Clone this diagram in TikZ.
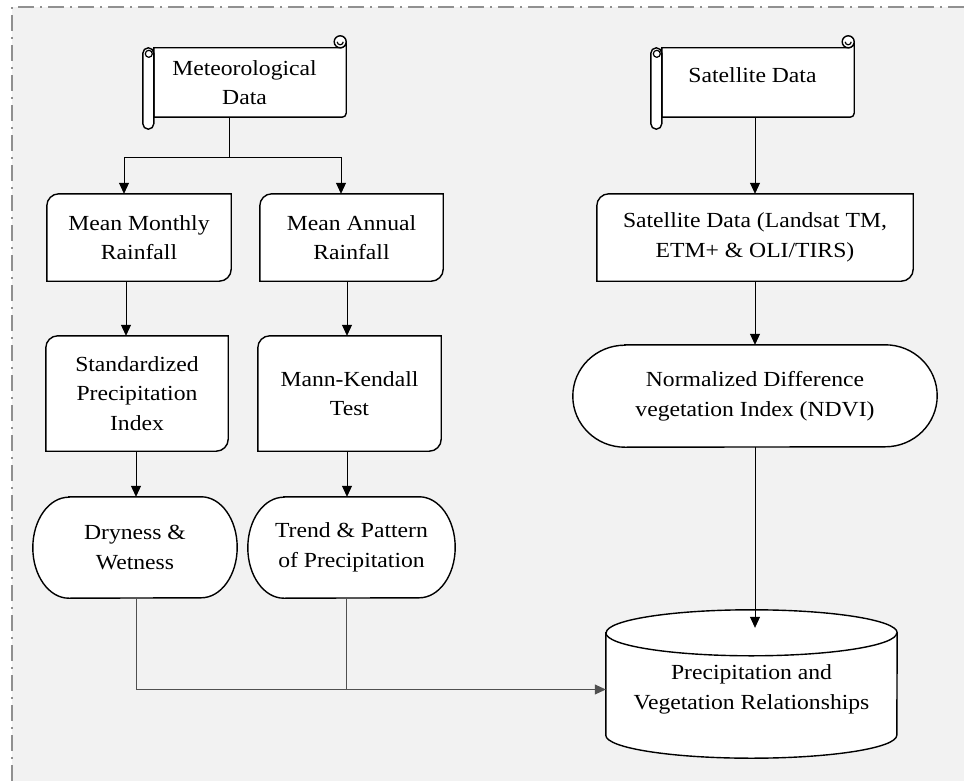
\documentclass[tikz,border=0pt]{standalone}
\usepackage{fontspec}
\setmainfont{Liberation Serif}[FakeStretch=1.1]
\usetikzlibrary{arrows.meta,calc}
\pgfdeclarelayer{bgl}
\pgfdeclarelayer{shp}
\pgfsetlayers{bgl,shp,main}
\definecolor{bgc}{HTML}{F2F2F2}
\definecolor{bordc}{HTML}{909090}
\definecolor{lngray}{HTML}{505050}

\newcommand\scrollshape[1]{%
  \begin{pgfonlayer}{shp}
    \filldraw[outl] ([xshift=11pt]#1.north west) -- ([xshift=-6pt]#1.north east)
      arc[start angle=270,end angle=360,radius=6pt]
      {[rounded corners=4pt] -- (#1.south east)} -- ([xshift=11pt]#1.south west) -- cycle;
    \filldraw[outl] ([shift={(-6,-6)}]#1.north east) circle[radius=6pt];
    \draw[line width=1.2pt] ([shift={(-9,-6)}]#1.north east) arc[start angle=180,end angle=360,radius=3pt];
    \filldraw[outl,rounded corners=5.5pt] (#1.north west) rectangle ([shift={(11,12)}]#1.south west);
    \draw[line width=1.2pt] ([shift={(6,6)}]#1.north west) circle[radius=3.5pt];
  \end{pgfonlayer}}

\newcommand\cardshape[1]{%
  \begin{pgfonlayer}{shp}
    \filldraw[outl] (#1.south west) -- ([yshift=-12pt]#1.north west)
      arc[start angle=180,end angle=90,radius=12pt] -- (#1.north east)
      -- ([yshift=12pt]#1.south east) arc[start angle=0,end angle=-90,radius=12pt] -- cycle;
  \end{pgfonlayer}}

\newcommand\termshape[3]{%
  \begin{pgfonlayer}{shp}
    \filldraw[outl] ([xshift=#2pt]#1.north west) -- ([xshift=-#2pt]#1.north east)
      arc[start angle=90,end angle=-90,x radius=#2pt,y radius=#3pt]
      -- ([xshift=#2pt]#1.south west)
      arc[start angle=270,end angle=90,x radius=#2pt,y radius=#3pt] -- cycle;
  \end{pgfonlayer}}

\begin{document}
\begin{tikzpicture}[x=1pt,y=-1pt,
  box/.style={inner sep=0pt, align=center, font=\fontsize{21.5}{29.5}\selectfont},
  outl/.style={draw=black, line width=1.4pt, fill=white},
  cn/.style={line width=0.8pt, draw=black},
  cn2/.style={line width=0.8pt, draw=lngray},
  arr/.style={-{Triangle[length=11pt,width=10pt]}, line width=0.8pt},
]
\useasboundingbox (0,0) rectangle (964,781);
\begin{pgfonlayer}{bgl}
  \fill[bgc] (12,7) rectangle (964,781);
  \draw[bordc, line width=1.5pt, dash pattern=on 16pt off 6pt on 2pt off 6pt] (12,781) -- (12,7) -- (964,7);
\end{pgfonlayer}

% nodes
\node[box, minimum width=203pt, minimum height=69pt] (met) at (244.5,82.5) {Meteorological\\Data};
\node[box, minimum width=203pt, minimum height=69pt, text depth=15pt] (sat) at (752.5,82.5) {Satellite Data};
\node[box, minimum width=184pt, minimum height=87pt] (mm) at (139,237.5) {Mean Monthly\\Rainfall};
\node[box, minimum width=183pt, minimum height=87pt] (ma) at (351.5,237.5) {Mean Annual\\Rainfall};
\node[box, minimum width=182pt, minimum height=115pt] (spi) at (137,393.5) {Standardized\\Precipitation\\Index};
\node[box, minimum width=183pt, minimum height=115pt] (mk) at (349.5,393.5) {Mann-Kendall\\Test};
\node[box, minimum width=204pt, minimum height=101pt] (dw) at (135,547.5) {Dryness \&\\Wetness};
\node[box, minimum width=207pt, minimum height=101pt] (tp) at (351.5,547.5) {Trend \& Pattern\\of Precipitation};
\node[box, minimum width=316pt, minimum height=87pt] (ls) at (755,237.5) {Satellite Data (Landsat TM,\\ETM+ \& OLI/TIRS)};
\node[box, minimum width=364pt, minimum height=102pt] (nd) at (755,396) {Normalized Difference\\vegetation Index (NDVI)};
\node[box, minimum width=291pt, minimum height=137pt] (cy) at (751.5,689.5) {Precipitation and\\Vegetation Relationships};

% shapes
\scrollshape{met}
\scrollshape{sat}
\cardshape{mm}
\cardshape{ma}
\cardshape{spi}
\cardshape{mk}
\cardshape{ls}
\termshape{dw}{36}{50.5}
\termshape{tp}{36}{50.5}
\termshape{nd}{52}{51}
\begin{pgfonlayer}{shp}
  \filldraw[outl] ([yshift=-12pt]cy.north west) -- ([yshift=23pt]cy.south west)
    arc[start angle=180,end angle=360,x radius=145.5pt,y radius=23pt]
    -- ([yshift=-12pt]cy.north east)
    arc[start angle=0,end angle=180,x radius=145.5pt,y radius=23pt] -- cycle;
  \draw[outl,fill=none] ([yshift=-12pt]cy.north west)
    arc[start angle=180,end angle=360,x radius=145.5pt,y radius=23pt];
\end{pgfonlayer}

% connectors
\coordinate (j1) at (229,157);
\draw[cn] ([xshift=-15.5pt]met.south) -- (j1);
\draw[cn,arr] (j1) -| ([xshift=-15pt]mm.north);
\draw[cn,arr] (j1) -| ([xshift=-10.5pt]ma.north);
\draw[cn,arr] ([xshift=-13pt]mm.south) -- ([xshift=-13pt]mm.south |- spi.north);
\draw[cn,arr] ([xshift=-4.5pt]ma.south) -- ([xshift=-4.5pt]ma.south |- mk.north);
\draw[cn,arr] ([xshift=-1pt]spi.south) -- ([xshift=-1pt]spi.south |- dw.north);
\draw[cn,arr] ([xshift=-2.5pt]mk.south) -- ([xshift=-2.5pt]mk.south |- tp.north);
\draw[cn,arr] ([xshift=2.5pt]sat.south) -- ([xshift=2.5pt]sat.south |- ls.north);
\draw[cn,arr] (ls.south) -- (nd.north);
\draw[cn,arr] (nd.south) -- ([yshift=-7pt]nd.south |- cy.north);
\draw[cn2,arr] ([xshift=1pt]dw.south) |- (cy.west);
\draw[cn2] ([xshift=-5.5pt]tp.south) -- ([xshift=-5.5pt]tp.south |- cy.west);
\end{tikzpicture}
\end{document}
